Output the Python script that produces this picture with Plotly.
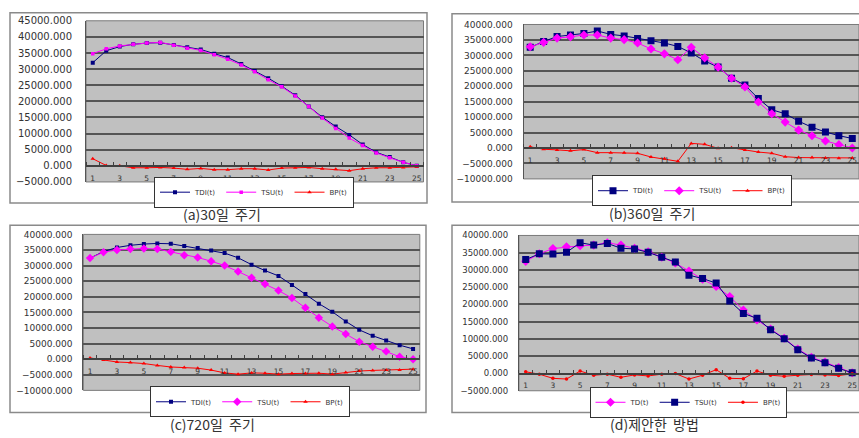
import plotly.graph_objects as go

W, H = 859, 438

# ---------------- data ----------------
periods = list(range(1, 26))
x_tick_vals = [p for p in periods if p % 2 == 1]
x_tick_text = [str(p) for p in x_tick_vals]
boundaries = [p - 0.5 for p in periods] + [25.5]

a_tdi = [32000, 35700, 37000, 37700, 38100, 38200, 37500, 36800, 36100, 34800, 33600, 31600, 29400,
         27200, 24700, 21900, 18400, 15100, 12200, 9600, 6600, 4200, 2700, 1100, 0]
a_tsu = [34800, 36300, 37200, 37700, 38100, 38300, 37400, 36500, 35800, 34500, 33100, 31300, 29200,
         26700, 24500, 21700, 18400, 14800, 11600, 8600, 6300, 4000, 2500, 1100, 0]
a_bp = [2200, 100, 0, -600, -600, -500, -700, -1100, -800, -1200, -1200, -900, -900,
        -1300, -700, -600, -500, -900, -1100, -1500, -900, -600, -600, -500, -300]

b_tdi = [32600, 34500, 36100, 36600, 37100, 37900, 36800, 36300, 35500, 34700, 34000, 32900, 30800,
         28200, 26200, 22600, 20400, 16000, 12400, 11100, 8700, 6700, 5200, 4000, 3100]
b_tsu = [32800, 34200, 35600, 36000, 36600, 36600, 35600, 35100, 34000, 32100, 30500, 28600, 32600,
         29200, 26200, 22600, 19800, 14900, 11100, 8400, 5800, 4000, 2300, 1100, 0]
b_bp = [400, -400, -600, -900, -500, -1500, -1500, -1500, -1700, -2900, -3500, -4300, 1500,
        1200, -100, 100, -600, -1300, -1700, -2800, -3100, -3100, -3200, -3300, -3200]

c_tdi = [32400, 34500, 35800, 36500, 36900, 37100, 37000, 36300, 35600, 34800, 34000, 32500, 30300,
         28400, 26700, 23800, 20900, 17800, 15200, 12100, 9400, 7500, 6000, 4500, 3300]
c_tsu = [32400, 34300, 35000, 35300, 35500, 35300, 34400, 33300, 32600, 31400, 30000, 28100, 26100,
         24100, 22000, 19600, 16500, 13300, 10500, 8100, 5600, 4000, 2500, 800, 0]
c_bp = [400, -300, -900, -1100, -1400, -2000, -2500, -2700, -2900, -3500, -4400, -4800, -4400,
        -4500, -4800, -4600, -4600, -4500, -4800, -4300, -3800, -3600, -3500, -3500, -3200]

d_td = [32500, 34700, 36200, 36700, 37000, 37200, 37900, 37200, 36300, 35300, 33700, 32000, 29700,
        27300, 25200, 22300, 18400, 15500, 12900, 10200, 7100, 4700, 3300, 1700, 200]
d_tsu = [33000, 34700, 34600, 35100, 37900, 37200, 37700, 36300, 36100, 35100, 33700, 32300, 28500,
         27500, 26200, 21000, 17400, 16000, 12700, 10100, 6900, 4500, 3100, 1500, 200]
d_bp = [500, -200, -1400, -1600, 700, -500, -200, -1100, -400, -700, -200, 0, -1600,
        -500, 1100, -1400, -1500, 700, -500, -800, -500, -300, -400, -600, -100]

legend_names = ["TDI(t)", "TSU(t)", "BP(t)"]
legend_names_d = ["TD(t)", "TSU(t)", "BP(t)"]
captions = ["(a)30일  주기", "(b)360일  주기", "(c)720일  주기", "(d)제안한  방법"]


def fx(px):
    return px / W


def fy(py):
    return 1 - py / H


NAVY = "#000080"
MAG = "#ff00ff"
RED = "#ff0000"

# panel geometry (pixels)
panels = [
    dict(box=(10, 8, 427, 203), plot=(86, 16.2, 423.5, 181.5), zero=165, yr=(-5000, 45000),
         leg=(254, 192), cap=(222, 214), tfs=10, tlen=11),
    dict(box=(452, 9, 870, 202), plot=(523.5, 20, 859, 178.4), zero=146.7, yr=(-10000, 40000),
         leg=(692, 190.5), cap=(652, 213.5), tfs=9, tlen=8),
    dict(box=(10, 226, 426, 418), plot=(83.3, 235.3, 419.8, 395.3), zero=363.3, yr=(-10000, 40000),
         leg=(250, 407), cap=(212, 429.5), tfs=9, tlen=8),
    dict(box=(452, 226, 870, 418), plot=(518.9, 236.4, 859, 395.7), zero=378, yr=(-5000, 40000),
         leg=(688, 407.5), cap=(654, 429.5), tfs=8.5, tlen=8),
]

series = [
    [(a_tdi, legend_names[0], NAVY, "square", 4), (a_tsu, legend_names[1], MAG, "square", 3.5),
     (a_bp, legend_names[2], RED, "triangle-up", 4)],
    [(b_tdi, legend_names[0], NAVY, "square", 7), (b_tsu, legend_names[1], MAG, "diamond", 7),
     (b_bp, legend_names[2], RED, "triangle-up", 4)],
    [(c_tdi, legend_names[0], NAVY, "square", 4), (c_tsu, legend_names[1], MAG, "diamond", 6.5),
     (c_bp, legend_names[2], RED, "triangle-up", 4)],
    [(d_td, legend_names_d[0], MAG, "diamond", 7), (d_tsu, legend_names_d[1], NAVY, "square", 7),
     (d_bp, legend_names_d[2], RED, "circle", 3.5)],
]

fig = go.Figure()
shapes = []
annotations = []
layout = {}

for i, (p, ser) in enumerate(zip(panels, series), start=1):
    bx0, by0, bx1, by1 = p["box"]
    px0, py0, px1, py1 = p["plot"]
    shapes.append(dict(type="rect", xref="paper", yref="paper", x0=fx(bx0), x1=fx(bx1),
                       y0=fy(by1), y1=fy(by0), fillcolor="white",
                       line=dict(color="#8a8a8a", width=1.5), layer="below"))
    shapes.append(dict(type="rect", xref="paper", yref="paper", x0=fx(px0), x1=min(fx(px1), 1.0),
                       y0=fy(py1), y1=fy(py0), fillcolor="#c0c0c0",
                       line=dict(color="#7a7a7a", width=1), layer="below"))
    sfx = "" if i == 1 else str(i)
    leg = "legend" + sfx
    for vals, name, color, sym, size in ser:
        fig.add_trace(go.Scatter(
            x=periods, y=vals, name=name, mode="lines+markers",
            line=dict(color=color, width=1),
            marker=dict(symbol=sym, size=size, color=color),
            xaxis="x" + sfx, yaxis="y" + sfx, legend=leg))
    layout["xaxis" + sfx] = dict(
        domain=[fx(px0), min(fx(px1), 1.0)], range=[0.5, 25.5],
        anchor="free", position=fy(p["zero"]),
        tickmode="array", tickvals=x_tick_vals, ticktext=x_tick_text,
        ticks="", ticklabelstandoff=5,
        tickfont=dict(family="DejaVu Sans", size=7.5, color="#333"),
        showline=True, linecolor="#404040", linewidth=1.5, showgrid=False, zeroline=False,
        minor=dict(tickmode="array", tickvals=boundaries, ticks="inside", ticklen=3,
                   tickcolor="#404040", tickwidth=1, showgrid=False),
    )
    layout["yaxis" + sfx] = dict(
        domain=[fy(py1), fy(py0)], range=list(p["yr"]), anchor="x" + sfx,
        tickmode="linear", tick0=0, dtick=5000, tickformat=".3f",
        ticks="outside", ticklen=p["tlen"], tickcolor="rgba(0,0,0,0)",
        tickfont=dict(family="DejaVu Sans", size=p["tfs"], color="#333"),
        showgrid=True, gridcolor="#555555", gridwidth=1.5,
        showline=True, linecolor="#555555", linewidth=1, zeroline=False,
    )
    layout[leg] = dict(
        x=fx(p["leg"][0]), y=fy(p["leg"][1]), xanchor="center", yanchor="middle",
        orientation="h", bgcolor="white", bordercolor="#333", borderwidth=1,
        font=dict(family="DejaVu Sans", size=7, color="#333"), itemwidth=30,
        tracegroupgap=0,
    )
    annotations.append(dict(
        text=captions[i - 1], x=fx(p["cap"][0]), y=fy(p["cap"][1]), xref="paper", yref="paper",
        xanchor="center", yanchor="middle", showarrow=False,
        font=dict(family="Noto Sans CJK KR", size=14, color="#333")))

fig.update_layout(
    width=W, height=H, margin=dict(l=0, r=0, t=0, b=0),
    paper_bgcolor="white", plot_bgcolor="rgba(0,0,0,0)",
    shapes=shapes, annotations=annotations, showlegend=True,
    **layout,
)

fig.write_html("out.html", config={"displayModeBar": False},
               post_script="document.body.style.margin='0';")
